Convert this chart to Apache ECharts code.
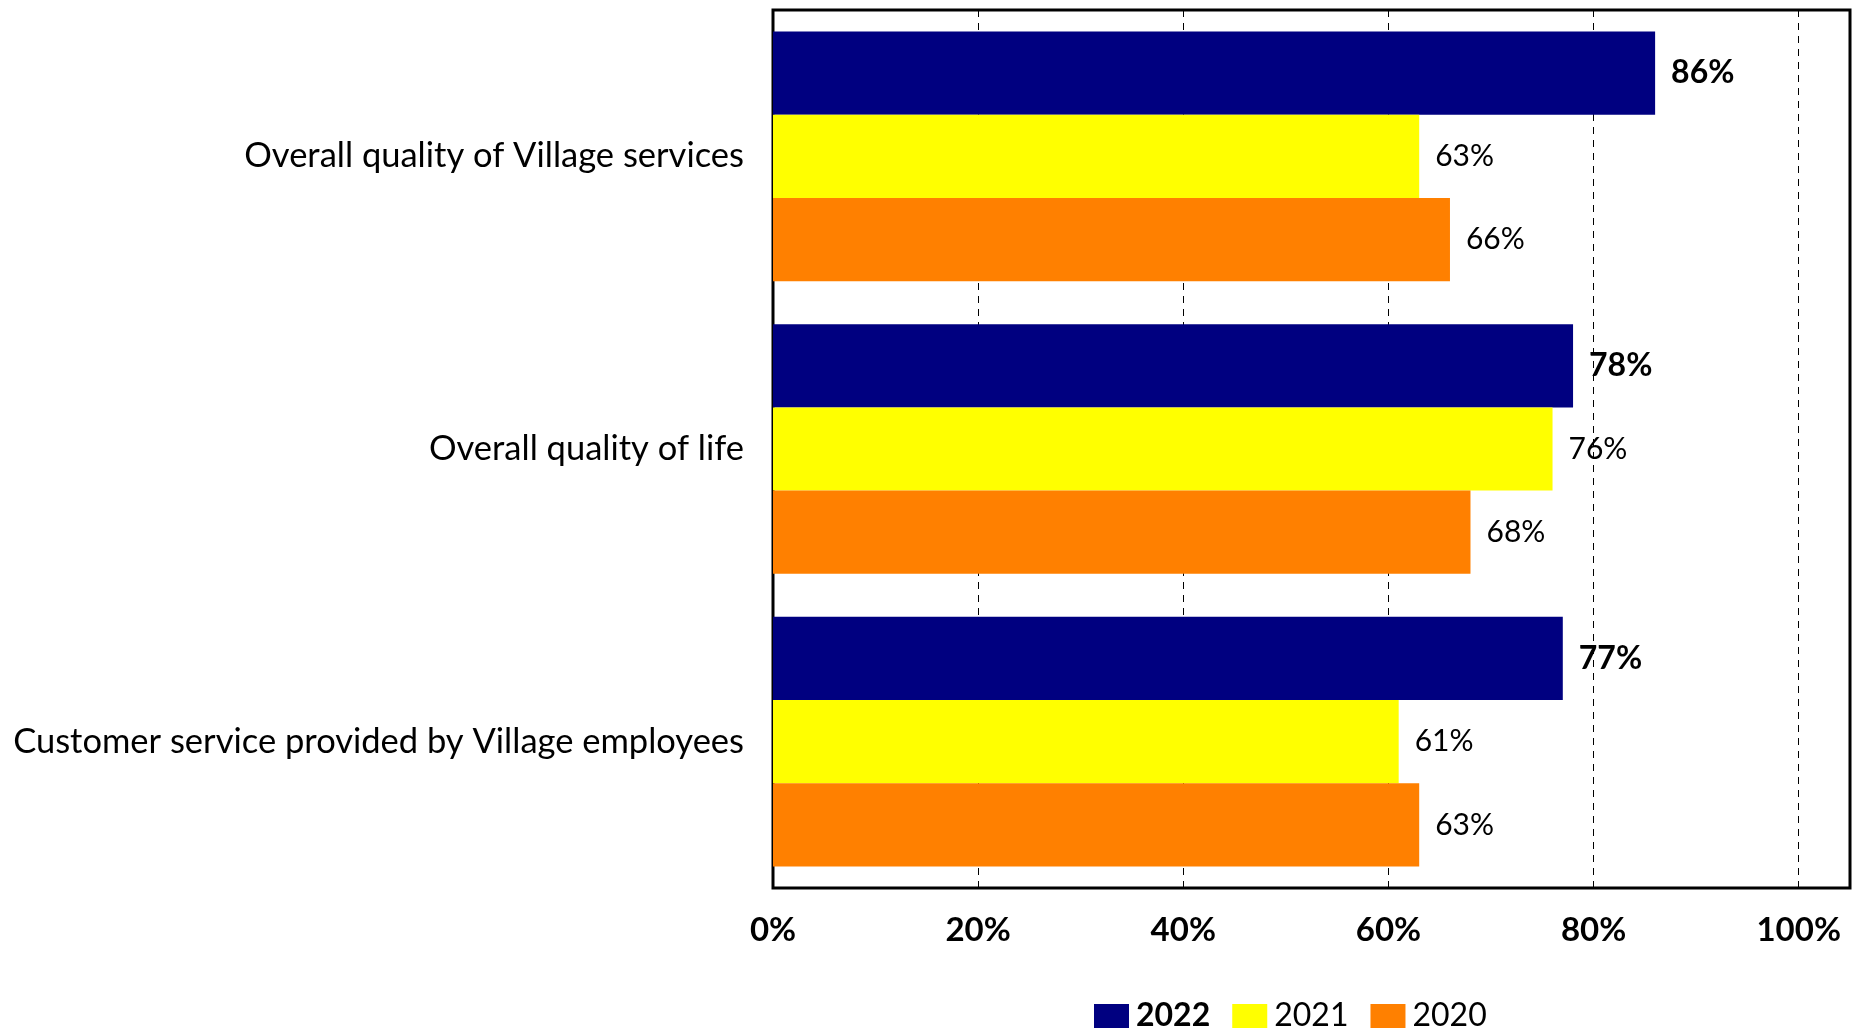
<!DOCTYPE html>
<html>
<head>
<meta charset="utf-8">
<script src="https://cdn.jsdelivr.net/npm/echarts@6/dist/echarts.min.js"></script>
<style>
  html, body { margin: 0; padding: 0; background: #fff; }
  #chart { width: 1857px; height: 1029px; }
</style>
</head>
<body>
<div id="chart"></div>
<script>
// Survey satisfaction by year
const categories = [
  'Overall quality of Village services',
  'Overall quality of life',
  'Customer service provided by Village employees'
];
const years = ['2022', '2021', '2020'];
const values2022 = [86, 78, 77];
const values2021 = [63, 76, 61];
const values2020 = [66, 68, 63];
const colors = ['#000080', '#FFFF00', '#FF8000'];
const FONT = 'Lato, "Open Sans", sans-serif';

const seriesValues = [values2022, values2021, values2020];

const chart = echarts.init(document.getElementById('chart'));
chart.setOption({
  animation: false,
  textStyle: { fontFamily: FONT, color: '#000' },
  grid: {
    left: 773, right: 7, top: 10, bottom: 141,
    show: true, borderColor: '#000', borderWidth: 3, backgroundColor: 'transparent',
    containLabel: false
  },
  legend: {
    left: 1094, top: 1000, padding: 0,
    itemWidth: 35, itemHeight: 24, itemGap: 22,
    icon: 'rect',
    textStyle: { fontFamily: FONT, fontSize: 32, lineHeight: 26, color: '#000', padding: [0, 0, 0, 2] },
    data: years.map((y, i) => ({
      name: y,
      textStyle: { fontWeight: i === 0 ? 'bold' : 'normal' }
    }))
  },
  xAxis: {
    type: 'value', min: 0, max: 105, interval: 20,
    axisLine: { show: false },
    axisTick: { show: false },
    axisLabel: {
      fontFamily: FONT, fontSize: 33, fontWeight: 'bold', color: '#000', margin: 26,
      showMaxLabel: false,
      formatter: v => (v % 20 === 0 ? v + '%' : '')
    },
    splitLine: { show: true, lineStyle: { color: '#000', width: 1, type: [7, 6] } }
  },
  yAxis: {
    type: 'category', data: categories, inverse: true,
    axisLine: { show: false },
    axisTick: { show: false },
    axisLabel: { fontFamily: FONT, fontSize: 34.5, color: '#000', margin: 29 }
  },
  series: years.map((y, i) => ({
    name: y,
    type: 'bar',
    data: seriesValues[i],
    barCategoryGap: '14.7%',
    barGap: '0%',
    itemStyle: { color: colors[i] },
    label: {
      show: true, position: 'right', distance: 16,
      fontFamily: FONT, color: '#000',
      fontSize: i === 0 ? 32 : 30,
      fontWeight: i === 0 ? 'bold' : 'normal',
      formatter: '{c}%'
    }
  }))
});
</script>
</body>
</html>
